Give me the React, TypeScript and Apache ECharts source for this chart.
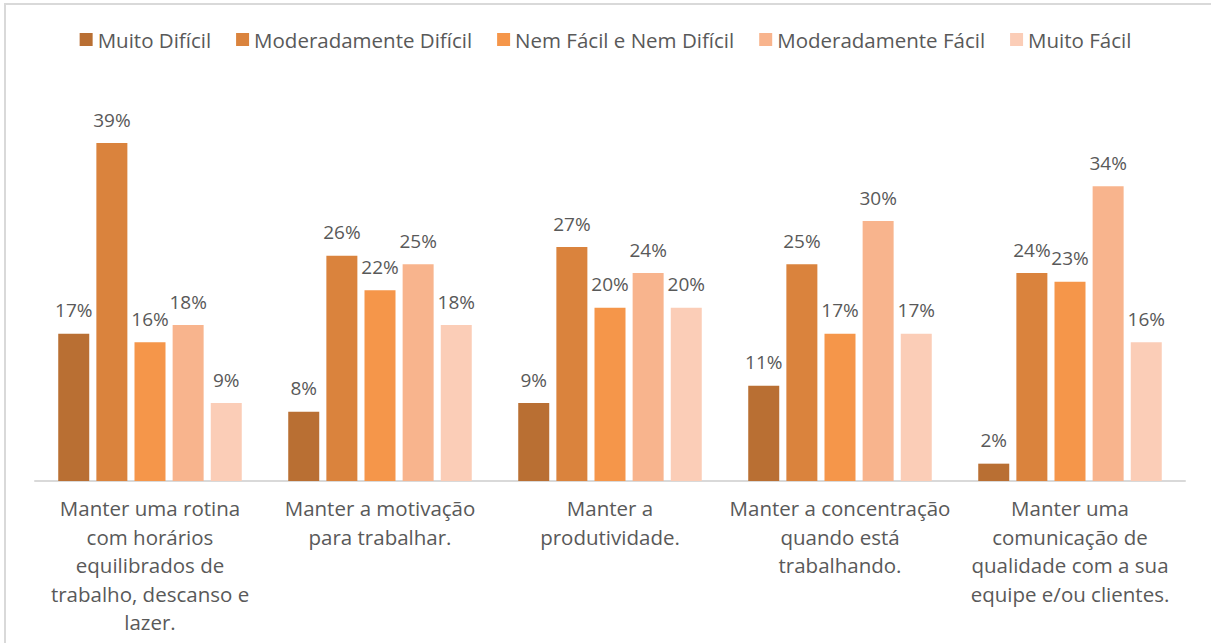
import React, { useEffect, useRef } from "react";
import * as echarts from "echarts";

const categories = [
  "Manter uma rotina\ncom horários\nequilibrados de\ntrabalho, descanso e\nlazer.",
  "Manter a motivação\npara trabalhar.",
  "Manter a\nprodutividade.",
  "Manter a concentração\nquando está\ntrabalhando.",
  "Manter uma\ncomunicação de\nqualidade com a sua\nequipe e/ou clientes.",
];

const seriesNames = [
  "Muito Difícil",
  "Moderadamente Difícil",
  "Nem Fácil e Nem Difícil",
  "Moderadamente Fácil",
  "Muito Fácil",
];

const muitoDificil = [17, 8, 9, 11, 2];
const moderadamenteDificil = [39, 26, 27, 25, 24];
const nemFacilNemDificil = [16, 22, 20, 17, 23];
const moderadamenteFacil = [18, 25, 24, 30, 34];
const muitoFacil = [9, 18, 20, 17, 16];

const seriesValues = [
  muitoDificil,
  moderadamenteDificil,
  nemFacilNemDificil,
  moderadamenteFacil,
  muitoFacil,
];

const colors = ["#B96F33", "#DA833D", "#F5964A", "#F8B48D", "#FBCDB7"];

const FONT = "'Open Sans', 'Noto Sans', sans-serif";
const TEXT = "#595959";

export default function App() {
  const ref = useRef<HTMLDivElement>(null);

  useEffect(() => {
    if (!ref.current) return;
    const chart = echarts.init(ref.current, null, { renderer: "svg" });
    chart.setOption({
      animation: false,
      backgroundColor: "#ffffff",
      color: colors,
      legend: {
        top: 24,
        left: "center",
        itemWidth: 13,
        itemHeight: 13,
        itemGap: 25,
        icon: "rect",
        textStyle: { color: TEXT, fontSize: 20.5, fontFamily: FONT, padding: [0, 0, 0, 0] },
        data: seriesNames,
      },
      grid: { left: 35, right: 26, top: 91, bottom: 162, containLabel: false },
      xAxis: {
        type: "category",
        data: categories,
        axisLine: { lineStyle: { color: "#D9D9D9", width: 2 } },
        axisTick: { show: false },
        axisLabel: {
          color: TEXT,
          fontSize: 20.5,
          fontFamily: FONT,
          lineHeight: 28.5,
          margin: 13,
          interval: 0,
          align: "center",
        },
      },
      yAxis: {
        type: "value",
        min: 0,
        max: 45,
        show: false,
        splitLine: { show: false },
      },
      graphic: [
        {
          type: "rect",
          shape: { x: 5, y: 4, width: 1400, height: 800 },
          style: { fill: "none", stroke: "#D9D9D9", lineWidth: 2 },
          silent: true,
          z: -10,
        },
      ],
      series: seriesNames.map((name, i) => ({
        name,
        type: "bar",
        data: seriesValues[i],
        barWidth: 31,
        barGap: "23%",
        itemStyle: { color: colors[i] },
        label: {
          show: true,
          position: "top",
          distance: 14,
          formatter: "{c}%",
          color: TEXT,
          fontSize: 19,
          fontFamily: FONT,
        },
      })),
    });
    return () => chart.dispose();
  }, []);

  return (
    <div
      ref={ref}
      style={{ position: "fixed", left: 0, top: 0, width: 1211, height: 643 }}
    />
  );
}
